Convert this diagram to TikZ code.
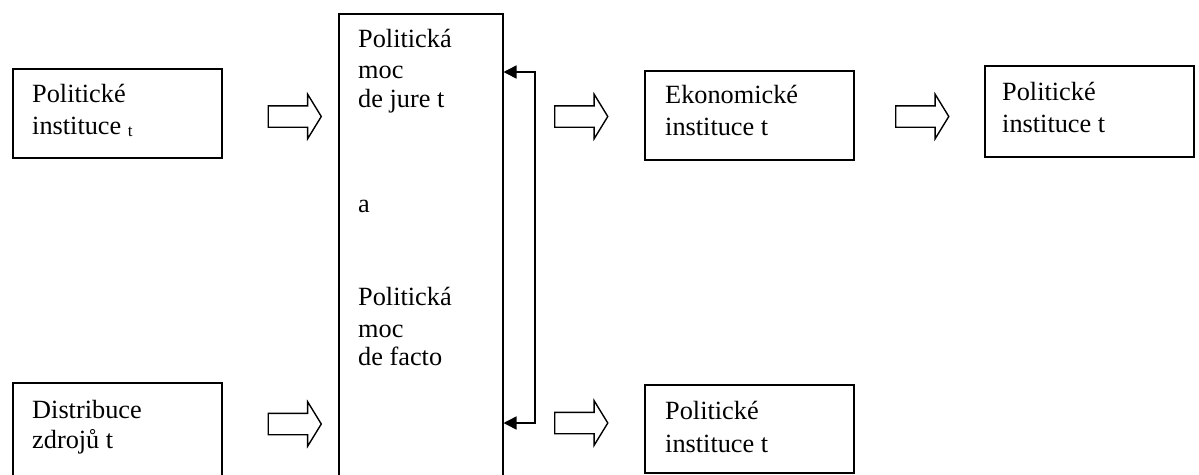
\documentclass[tikz,border=0pt]{standalone}
\usepackage{fontspec}
\setmainfont{Liberation Serif}
\usetikzlibrary{shapes.arrows,arrows.meta}
\begin{document}
\begin{tikzpicture}[x=1pt,y=-1pt,
  box/.style={draw, line width=1.5pt, inner sep=0pt, anchor=north west},
  lbl/.style={anchor=base west, inner sep=0pt, font=\fontsize{26.3}{30}\selectfont},
  harrow/.style={single arrow, draw, line width=1.4pt, inner xsep=0pt, inner ysep=10pt,
    minimum height=53pt, minimum width=43pt, single arrow head extend=11.5pt,
    single arrow tip angle=117, anchor=center},
  fb/.style={line width=1.5pt, {Triangle[length=13pt,width=13pt]}-{Triangle[length=13pt,width=13pt]}}]
\useasboundingbox (0,0) rectangle (1199,474);
% boxes
\node[box, minimum width=209pt, minimum height=89pt] (b1) at (12,68) {};
\node[box, minimum width=209pt, minimum height=110pt] (b2) at (12,382) {};
\node[box, minimum width=164pt, minimum height=480pt] (big) at (338,13) {};
\node[box, minimum width=209pt, minimum height=89pt] (ek) at (644,70) {};
\node[box, minimum width=209pt, minimum height=91pt] (pr) at (984,65) {};
\node[box, minimum width=209pt, minimum height=88pt] (pb) at (644,384) {};
% texts
\node[lbl] (t1a) at (32,102) {Politické};
\node[lbl] (t1b) at (32,134) {instituce \raisebox{-2.5pt}{\fontsize{17}{17}\selectfont t}};
\node[lbl] (t2a) at (32,418) {Distribuce};
\node[lbl] (t2b) at (32,448) {zdrojů t};
\node[lbl] (m1) at (358,47) {Politická};
\node[lbl] (m2) at (358,78) {moc};
\node[lbl] (m3) at (358,107) {de jure t};
\node[lbl] (m4) at (358,212) {a};
\node[lbl] (m5) at (358,305) {Politická};
\node[lbl] (m6) at (358,337) {moc};
\node[lbl] (m7) at (358,365) {de facto};
\node[lbl] (e1) at (665,103) {Ekonomické};
\node[lbl] (e2) at (665,135) {instituce t};
\node[lbl] (r1) at (1002,100) {Politické};
\node[lbl] (r2) at (1002,132) {instituce t};
\node[lbl] (p1) at (665,419) {Politické};
\node[lbl] (p2) at (665,452) {instituce t};
% hollow arrows
\node[harrow] (a1) at (291.5,116.5) {};
\node[harrow] (a2) at (291.5,424) {};
\node[harrow] (a3) at (578,116.5) {};
\node[harrow] (a4) at (578,423) {};
\node[harrow] (a5) at (919,116.5) {};
% feedback connector
\coordinate (fbT) at (535,72);
\coordinate (fbB) at (535,423);
\draw[fb] (big.east |- fbT) -- (fbT) -- (fbB) -- (big.east |- fbB);
\end{tikzpicture}
\end{document}
